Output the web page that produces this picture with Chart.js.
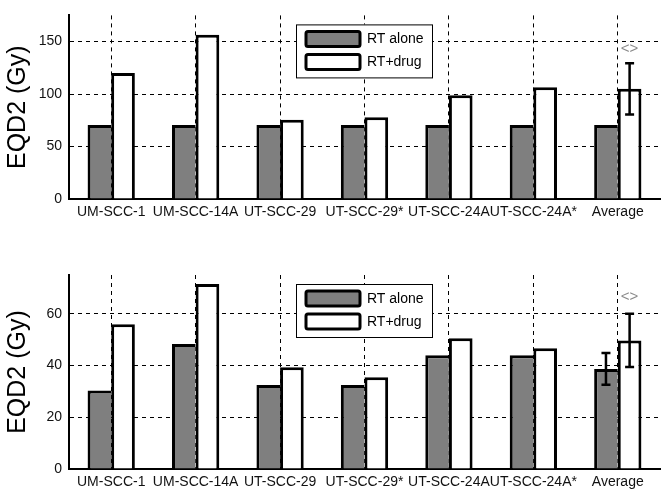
<!DOCTYPE html>
<html>
<head>
<meta charset="utf-8">
<script src="https://cdn.jsdelivr.net/npm/chart.js@4.4.1/dist/chart.umd.min.js"></script>
<style>
  body { margin: 0; background: #fff; }
  .panel { position: absolute; left: 0; width: 664px; height: 248px; }
</style>
</head>
<body>
<div class="panel" style="top:0"><canvas id="topChart"></canvas></div>
<div class="panel" style="top:248px"><canvas id="bottomChart"></canvas></div>
<script>
const categories = ['UM-SCC-1', 'UM-SCC-14A', 'UT-SCC-29', 'UT-SCC-29*', 'UT-SCC-24A', 'UT-SCC-24A*', 'Average'];
const seriesNames = ['RT alone', 'RT+drug'];

// top panel
const topAlone = [70.6, 70.6, 70.6, 70.6, 70.6, 70.6, 70.6];
const topDrug = [120, 156.5, 75.5, 78, 99, 106.5, 105];
const topAloneErr = [null, null, null, null, null, null, null];
const topDrugErr = [null, null, null, null, null, null, 24.5];
const topTicks = [0, 50, 100, 150];
const topMax = 175;
const topMarker = [null, null, null, null, null, null, 143.5];

// bottom panel
const bottomAlone = [30.3, 48.3, 32.5, 32.5, 44, 44, 38.7];
const bottomDrug = [56, 71.5, 39.3, 35.5, 50.5, 46.7, 49.7];
const bottomAloneErr = [null, null, null, null, null, null, 6.1];
const bottomDrugErr = [null, null, null, null, null, null, 10.3];
const bottomTicks = [0, 20, 40, 60];
const bottomMax = 75;
const bottomMarker = [null, null, null, null, null, null, 66.5];

const FONT = "'Liberation Sans', Arial, sans-serif";
const GRAY = '#7f7f7f';

const overlay = {
    id: 'overlay',
    afterDatasetsDraw(chart) {
        const ctx = chart.ctx;
        const y = chart.scales.y;
        const area = chart.chartArea;
        const o = chart.options.plugins.overlay;

        // error bars
        o.errors.forEach((errs, di) => {
            const meta = chart.getDatasetMeta(di);
            const vals = chart.data.datasets[di].data;
            errs.forEach((e, i) => {
                if (e == null) return;
                const x = meta.data[i].x;
                const y1 = y.getPixelForValue(vals[i] + e);
                const y2 = y.getPixelForValue(vals[i] - e);
                ctx.save();
                ctx.strokeStyle = '#000';
                ctx.lineWidth = 2.5;
                ctx.beginPath();
                ctx.moveTo(x, y1); ctx.lineTo(x, y2);
                ctx.moveTo(x - 4.5, y1); ctx.lineTo(x + 4.5, y1);
                ctx.moveTo(x - 4.5, y2); ctx.lineTo(x + 4.5, y2);
                ctx.stroke();
                ctx.restore();
            });
        });

        // significance marker
        const meta1 = chart.getDatasetMeta(1);
        o.marker.forEach((v, i) => {
            if (v == null) return;
            ctx.save();
            ctx.fillStyle = '#8a8a8a';
            ctx.font = '15px ' + FONT;
            ctx.textAlign = 'center';
            ctx.textBaseline = 'middle';
            ctx.fillText('<>', meta1.data[i].x, y.getPixelForValue(v));
            ctx.restore();
        });

        // legend box
        const bx = 296, by = area.top + 9, bw = 136, bh = 53;
        ctx.save();
        ctx.fillStyle = '#fff';
        ctx.fillRect(bx, by, bw, bh);
        ctx.strokeStyle = '#000';
        ctx.lineWidth = 1;
        ctx.strokeRect(bx + 0.5, by + 0.5, bw, bh);
        chart.data.datasets.forEach((ds, di) => {
            const sy = by + 6 + di * 23;
            ctx.fillStyle = ds.backgroundColor;
            ctx.strokeStyle = '#000';
            ctx.lineWidth = 3;
            ctx.beginPath();
            ctx.roundRect(bx + 10, sy + 1, 54, 15, 2);
            ctx.fill();
            ctx.stroke();
            ctx.fillStyle = '#000';
            ctx.font = '14px ' + FONT;
            ctx.textAlign = 'left';
            ctx.textBaseline = 'middle';
            ctx.fillText(ds.label, bx + 71, sy + 9);
        });
        ctx.restore();
    }
};

function makeChart(id, alone, drug, aloneErr, drugErr, ticks, yMax, marker, padTop) {
    const ctx = document.getElementById(id).getContext('2d');
    return new Chart(ctx, {
        type: 'bar',
        data: {
            labels: categories,
            datasets: [{
                label: seriesNames[0],
                data: alone,
                backgroundColor: GRAY,
                borderColor: '#000',
                borderWidth: { top: 3, left: 3, right: 0, bottom: 0 }
            }, {
                label: seriesNames[1],
                data: drug,
                backgroundColor: '#fff',
                borderColor: '#000',
                borderWidth: { top: 3, left: 3, right: 3, bottom: 0 }
            }]
        },
        options: {
            responsive: true,
            maintainAspectRatio: false,
            animation: false,
            events: [],
            categoryPercentage: 0.56,
            barPercentage: 1.0,
            layout: { padding: { left: 0, right: 4, top: padTop, bottom: 0 } },
            plugins: {
                legend: { display: false },
                tooltip: { enabled: false },
                overlay: { errors: [aloneErr, drugErr], marker: marker }
            },
            scales: {
                x: {
                    grid: { offset: false, color: '#000', lineWidth: 1, drawTicks: false },
                    border: { display: true, color: '#000', width: 2, dash: [4, 4] },
                    ticks: {
                        autoSkip: false, maxRotation: 0, minRotation: 0,
                        padding: 5, color: '#111', font: { family: FONT, size: 14 }
                    },
                    afterFit: s => { s.height = 248 - padTop - 194; }
                },
                y: {
                    min: 0,
                    max: yMax,
                    afterBuildTicks: s => { s.ticks = ticks.map(v => ({ value: v })); },
                    grid: { color: '#000', lineWidth: 1, drawTicks: false },
                    border: { display: true, color: '#000', width: 2, dash: [4, 4] },
                    ticks: { padding: 7, color: '#111', font: { family: FONT, size: 14 } },
                    title: {
                        display: true,
                        text: 'EQD2 (Gy)',
                        color: '#000',
                        font: { family: FONT, size: 25 },
                        padding: { top: 3.5, bottom: 0 }
                    },
                    afterFit: s => { s.width = 69; }
                }
            }
        },
        plugins: [overlay]
    });
}

makeChart('topChart', topAlone, topDrug, topAloneErr, topDrugErr, topTicks, topMax, topMarker, 5);
makeChart('bottomChart', bottomAlone, bottomDrug, bottomAloneErr, bottomDrugErr, bottomTicks, bottomMax, bottomMarker, 27);
</script>
</body>
</html>
